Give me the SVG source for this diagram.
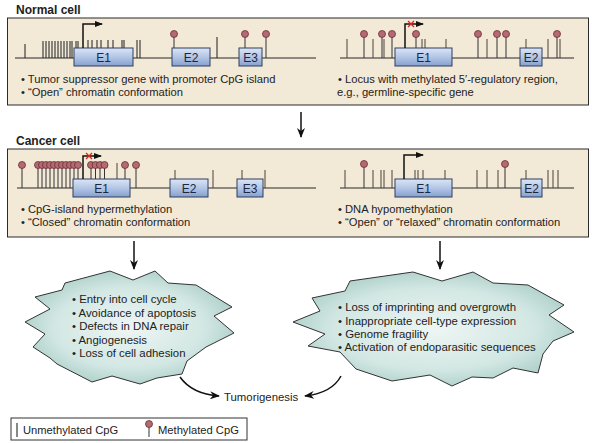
<svg xmlns="http://www.w3.org/2000/svg" width="593" height="443" viewBox="0 0 593 443">
<style>
text{font-family:"Liberation Sans",Arial,sans-serif;fill:#222}
.title{font-size:12px;font-weight:bold}
.txt{font-size:11.2px}
.btxt{font-size:11.4px}
.panel{fill:#f3e9d7;stroke:#2b2b2b;stroke-width:1}
.dna{stroke:#2a2a2a;stroke-width:1.2}
.t{stroke:#4a4038;stroke-width:1}
.tk{stroke:#1e1e1e;stroke-width:1}
.st{stroke:#333;stroke-width:1}
.pc{fill:#b46a72;stroke:#6a2d35;stroke-width:0.8}
.ex{fill:url(#exg);stroke:#2f3f60;stroke-width:1}
.ext{font-size:12px;text-anchor:middle;fill:#1b2740}
.burst{fill:url(#bg);stroke:#333;stroke-width:1}
.arr{stroke:#111;stroke-width:1.5;fill:none;marker-end:url(#ah)}
.prom{stroke:#111;stroke-width:1.5;fill:none;marker-end:url(#ph)}
.x{stroke:#d22;stroke-width:1.2}
</style>
<defs>
<linearGradient id="exg" x1="0" y1="0" x2="0" y2="1">
<stop offset="0" stop-color="#dbe5f4"/>
<stop offset="0.5" stop-color="#b3c6e6"/>
<stop offset="1" stop-color="#86a0cd"/>
</linearGradient>
<radialGradient id="bg" cx="0.5" cy="0.5" r="0.6">
<stop offset="0" stop-color="#eef6f4"/>
<stop offset="0.6" stop-color="#d2e7e3"/>
<stop offset="1" stop-color="#9fc6bf"/>
</radialGradient>
<marker id="ah" markerWidth="10" markerHeight="8" refX="9" refY="4" orient="auto" markerUnits="userSpaceOnUse">
<path d="M0,0 L10,4 L0,8 L3,4 z" fill="#111"/>
</marker>
<marker id="ph" markerWidth="8" markerHeight="6" refX="7" refY="3" orient="auto" markerUnits="userSpaceOnUse">
<path d="M0,0 L8,3 L0,6 z" fill="#111"/>
</marker>
</defs>
<rect width="593" height="443" fill="#fff"/>

<g id="normal-cell">
<text class="title" x="16" y="14">Normal cell</text>
<rect class="panel" x="7.5" y="18" width="581" height="87"/>
</g>

<g id="normal-tsg">
<line class="dna" x1="15" y1="58" x2="316" y2="58"/>
<g class="tk">
<line x1="25" y1="58" x2="25" y2="44"/>
<line x1="43" y1="58" x2="43" y2="41"/><line x1="46" y1="58" x2="46" y2="41"/><line x1="49" y1="58" x2="49" y2="41"/>
<line x1="52" y1="58" x2="52" y2="41"/><line x1="55" y1="58" x2="55" y2="41"/><line x1="58" y1="58" x2="58" y2="41"/>
<line x1="61" y1="58" x2="61" y2="41"/><line x1="64" y1="58" x2="64" y2="41"/><line x1="67" y1="58" x2="67" y2="41"/>
<line x1="70" y1="58" x2="70" y2="41"/><line x1="72" y1="58" x2="72" y2="41"/><line x1="76" y1="58" x2="76" y2="41"/>
<line x1="78" y1="58" x2="78" y2="41"/>
<line x1="88" y1="48" x2="88" y2="40"/><line x1="92" y1="48" x2="92" y2="40"/><line x1="97" y1="48" x2="97" y2="40"/>
<line x1="101" y1="48" x2="101" y2="40"/><line x1="108" y1="48" x2="108" y2="40"/><line x1="113" y1="48" x2="113" y2="40"/>
<line x1="122" y1="48" x2="122" y2="40"/><line x1="124" y1="48" x2="124" y2="40"/>
<line x1="137" y1="58" x2="137" y2="40"/><line x1="140" y1="58" x2="140" y2="40"/>
<line x1="217" y1="58" x2="217" y2="37"/>
</g>
<g class="st">
<line x1="174" y1="48" x2="174" y2="36"/><line x1="245" y1="48" x2="245" y2="36"/><line x1="266" y1="58" x2="266" y2="36"/>
</g>
<circle class="pc" cx="174" cy="34" r="3.5"/><circle class="pc" cx="245" cy="34" r="3.5"/><circle class="pc" cx="266" cy="34" r="3.5"/>
<rect class="ex" x="74" y="48" width="59" height="18"/><text class="ext" x="103.5" y="61.5">E1</text>
<rect class="ex" x="172" y="48" width="38" height="18"/><text class="ext" x="191" y="61.5">E2</text>
<rect class="ex" x="239" y="48" width="23" height="18"/><text class="ext" x="250.5" y="61.5">E3</text>
<path class="prom" d="M83,48 V24 H102"/>
<text class="txt" x="21" y="83">• Tumor suppressor gene with promoter CpG island</text>
<text class="txt" x="21" y="96">• “Open” chromatin conformation</text>
</g>

<g id="normal-germline">
<line class="dna" x1="340" y1="58" x2="574" y2="58"/>
<g class="t">
<line x1="347" y1="58" x2="347" y2="39"/><line x1="373" y1="58" x2="373" y2="39"/><line x1="384" y1="58" x2="384" y2="39"/>
<line x1="422" y1="48" x2="422" y2="39"/><line x1="425" y1="48" x2="425" y2="39"/><line x1="446" y1="48" x2="446" y2="39"/>
<line x1="487" y1="58" x2="487" y2="39"/><line x1="526" y1="48" x2="526" y2="39"/><line x1="548" y1="58" x2="548" y2="39"/>
<line x1="560" y1="58" x2="560" y2="39"/>
</g>
<g class="st">
<line x1="364" y1="58" x2="364" y2="36"/><line x1="382" y1="58" x2="382" y2="36"/><line x1="392" y1="58" x2="392" y2="36"/>
<line x1="416" y1="48" x2="416" y2="36"/><line x1="478" y1="58" x2="478" y2="36"/><line x1="497" y1="58" x2="497" y2="36"/>
<line x1="506" y1="58" x2="506" y2="36"/><line x1="557" y1="58" x2="557" y2="36"/>
</g>
<circle class="pc" cx="364" cy="34" r="3.5"/><circle class="pc" cx="382" cy="34" r="3.5"/><circle class="pc" cx="392" cy="34" r="3.5"/>
<circle class="pc" cx="416" cy="34" r="3.5"/><circle class="pc" cx="478" cy="34" r="3.5"/><circle class="pc" cx="497" cy="34" r="3.5"/>
<circle class="pc" cx="506" cy="34" r="3.5"/><circle class="pc" cx="557" cy="34" r="3.5"/>
<rect class="ex" x="395" y="48" width="57" height="18"/><text class="ext" x="423.5" y="61.5">E1</text>
<rect class="ex" x="520" y="48" width="22" height="18"/><text class="ext" x="531" y="61.5">E2</text>
<path class="prom" d="M405,48 V24 H423"/>
<line class="x" x1="408" y1="21" x2="414" y2="27"/><line class="x" x1="408" y1="27" x2="414" y2="21"/>
<text class="txt" x="338" y="83">• Locus with methylated 5′-regulatory region,</text>
<text class="txt" x="337" y="96">e.g., germline-specific gene</text>
</g>

<g id="cancer-cell">
<text class="title" x="16" y="145">Cancer cell</text>
<rect class="panel" x="7.5" y="149" width="581" height="88"/>
</g>

<g id="cancer-tsg">
<line class="dna" x1="17" y1="188" x2="316" y2="188"/>
<g class="st">
<line x1="22" y1="188" x2="22" y2="167"/>
<line x1="38" y1="188" x2="38" y2="167"/><line x1="42" y1="188" x2="42" y2="167"/><line x1="46" y1="188" x2="46" y2="167"/>
<line x1="50" y1="188" x2="50" y2="167"/><line x1="54" y1="188" x2="54" y2="167"/><line x1="58" y1="188" x2="58" y2="167"/>
<line x1="62" y1="188" x2="62" y2="167"/><line x1="66" y1="188" x2="66" y2="167"/><line x1="70" y1="188" x2="70" y2="167"/>
<line x1="74" y1="179" x2="74" y2="167"/><line x1="78" y1="179" x2="78" y2="167"/>
<line x1="91" y1="179" x2="91" y2="167"/><line x1="95.5" y1="179" x2="95.5" y2="167"/><line x1="100" y1="179" x2="100" y2="167"/>
<line x1="104.5" y1="179" x2="104.5" y2="167"/><line x1="125" y1="179" x2="125" y2="167"/><line x1="136" y1="188" x2="136" y2="167"/>
</g>
<g class="t">
<line x1="117" y1="179" x2="117" y2="163"/>
<line x1="175" y1="179" x2="175" y2="170"/><line x1="213" y1="188" x2="213" y2="170"/>
<line x1="242" y1="179" x2="242" y2="170"/><line x1="265" y1="188" x2="265" y2="170"/>
</g>
<g>
<circle class="pc" cx="22" cy="165" r="3.5"/>
<circle class="pc" cx="38" cy="165" r="3.5"/><circle class="pc" cx="42" cy="165" r="3.5"/><circle class="pc" cx="46" cy="165" r="3.5"/>
<circle class="pc" cx="50" cy="165" r="3.5"/><circle class="pc" cx="54" cy="165" r="3.5"/><circle class="pc" cx="58" cy="165" r="3.5"/>
<circle class="pc" cx="62" cy="165" r="3.5"/><circle class="pc" cx="66" cy="165" r="3.5"/><circle class="pc" cx="70" cy="165" r="3.5"/>
<circle class="pc" cx="74" cy="165" r="3.5"/><circle class="pc" cx="78" cy="165" r="3.5"/>
<circle class="pc" cx="91" cy="165" r="3.5"/><circle class="pc" cx="95.5" cy="165" r="3.5"/><circle class="pc" cx="100" cy="165" r="3.5"/>
<circle class="pc" cx="104.5" cy="165" r="3.5"/><circle class="pc" cx="125" cy="165" r="3.5"/><circle class="pc" cx="136" cy="165" r="3.5"/>
</g>
<rect class="ex" x="73" y="179" width="57" height="18"/><text class="ext" x="101.5" y="192.5">E1</text>
<rect class="ex" x="170" y="179" width="38" height="18"/><text class="ext" x="189" y="192.5">E2</text>
<rect class="ex" x="237" y="179" width="26" height="18"/><text class="ext" x="250" y="192.5">E3</text>
<path class="prom" d="M83,179 V156 H101"/>
<line class="x" x1="86" y1="153" x2="92" y2="159"/><line class="x" x1="86" y1="159" x2="92" y2="153"/>
<text class="txt" x="21" y="213">• CpG-island hypermethylation</text>
<text class="txt" x="21" y="226">• “Closed” chromatin conformation</text>
</g>

<g id="cancer-hypo">
<line class="dna" x1="340" y1="188" x2="574" y2="188"/>
<g class="t">
<line x1="345" y1="188" x2="345" y2="170"/><line x1="373" y1="188" x2="373" y2="170"/><line x1="381" y1="188" x2="381" y2="170"/>
<line x1="384" y1="188" x2="384" y2="170"/><line x1="392" y1="188" x2="392" y2="170"/>
<line x1="415" y1="179" x2="415" y2="170"/><line x1="418" y1="179" x2="418" y2="170"/><line x1="423" y1="179" x2="423" y2="170"/>
<line x1="445" y1="179" x2="445" y2="170"/>
<line x1="477" y1="188" x2="477" y2="170"/><line x1="487" y1="188" x2="487" y2="170"/><line x1="498" y1="188" x2="498" y2="170"/>
<line x1="526" y1="179" x2="526" y2="170"/>
<line x1="548" y1="188" x2="548" y2="170"/><line x1="553" y1="188" x2="553" y2="170"/><line x1="558" y1="188" x2="558" y2="170"/>
</g>
<g class="st">
<line x1="364" y1="188" x2="364" y2="166"/><line x1="505" y1="188" x2="505" y2="166"/>
</g>
<circle class="pc" cx="364" cy="164" r="3.5"/><circle class="pc" cx="505" cy="164" r="3.5"/>
<rect class="ex" x="395" y="179" width="57" height="18"/><text class="ext" x="423.5" y="192.5">E1</text>
<rect class="ex" x="521" y="179" width="21" height="18"/><text class="ext" x="531.5" y="192.5">E2</text>
<path class="prom" d="M404,179 V155 H423"/>
<text class="txt" x="338" y="213">• DNA hypomethylation</text>
<text class="txt" x="338" y="226">• “Open” or “relaxed” chromatin conformation</text>
</g>

<g id="burst-left">
<polygon class="burst" points="65,283 110,271 133,280 155,271 168,283 196,285 232,307 214,316 234,333 206,347 187,361 182,374 157,378 140,384 112,376 92,382 57,364 50,358 33,347 45,334 25,322 50,309 35,297 62,290"/>
<text class="btxt" x="72" y="303">• Entry into cell cycle</text>
<text class="btxt" x="72" y="317">• Avoidance of apoptosis</text>
<text class="btxt" x="72" y="330">• Defects in DNA repair</text>
<text class="btxt" x="72" y="344">• Angiogenesis</text>
<text class="btxt" x="72" y="357">• Loss of cell adhesion</text>
</g>

<g id="burst-right">
<polygon class="burst" points="350,281 413,272 442,281 473,272 493,283 528,285 564,305 549,315 574,332 553,341 543,354 538,373 513,368 493,378 472,377 452,386 430,375 392,381 356,369 340,352 308,346 325,334 293,322 320,311 312,298 345,291"/>
<text class="btxt" x="338" y="311">• Loss of imprinting and overgrowth</text>
<text class="btxt" x="338" y="325">• Inappropriate cell-type expression</text>
<text class="btxt" x="338" y="338">• Genome fragility</text>
<text class="btxt" x="338" y="351">• Activation of endoparasitic sequences</text>
</g>

<g id="tumorigenesis">
<text class="btxt" x="224" y="401">Tumorigenesis</text>
</g>

<g id="connectors">
<line class="arr" x1="301" y1="112" x2="301" y2="137"/>
<line class="arr" x1="134" y1="241" x2="134" y2="269"/>
<line class="arr" x1="440" y1="241" x2="440" y2="269"/>
<path class="arr" d="M180,377 Q192,394 219,396"/>
<path class="arr" d="M341,376 Q332,393 305,396"/>
</g>

<g id="legend">
<rect x="11" y="418" width="236" height="22" fill="#fff" stroke="#333" stroke-width="1"/>
<line x1="17" y1="423" x2="17" y2="437" stroke="#888" stroke-width="2"/>
<text class="txt" x="23" y="434">Unmethylated CpG</text>
<line class="st" x1="149" y1="427" x2="149" y2="437"/>
<circle class="pc" cx="149" cy="424" r="3.5"/>
<text class="txt" x="158" y="434">Methylated CpG</text>
</g>
</svg>
